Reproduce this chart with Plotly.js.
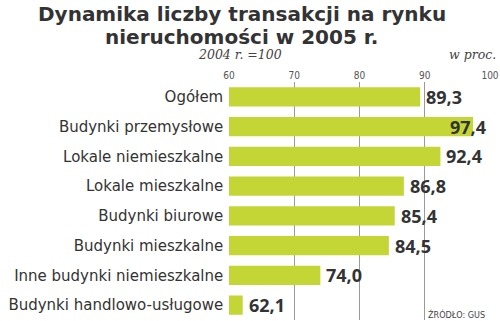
<!DOCTYPE html>
<html><head><meta charset="utf-8">
<script src="https://cdn.plot.ly/plotly-3.0.1.min.js"></script>
<style>html,body{margin:0;padding:0;background:#fff}#c{width:500px;height:321px}</style>
</head><body><div id="c"></div>
<script>
const categories = ["Ogółem","Budynki przemysłowe","Lokale niemieszkalne","Lokale mieszkalne","Budynki biurowe","Budynki mieszkalne","Inne budynki niemieszkalne","Budynki handlowo-usługowe"];
const values = [89.3, 97.4, 92.4, 86.8, 85.4, 84.5, 74.0, 62.1];
const tickVals = [60, 70, 80, 90, 100];
const fmt = v => v.toFixed(1).replace('.', ',');

const trace = {
  type: 'bar', orientation: 'h', x: values, y: categories,
  marker: {color: '#c4d536'}, width: 0.64, hoverinfo: 'skip'
};
const annotations = values.map((v, i) => ({
  x: Math.min(v, 93.0), y: categories[i], xref: 'x', yref: 'y',
  text: fmt(v), showarrow: false, xanchor: 'left', xshift: 4,
  font: {family: 'Open Sans, sans-serif', size: 18, color: '#333', weight: 700}
}));
const H = 238;
const py = px => (320 - px) / H;
annotations.push(
  {xref:'paper', yref:'paper', x:0.048, y:py(14.5), xanchor:'center', yanchor:'middle', showarrow:false,
   text:'<b>Dynamika liczby transakcji na rynku</b>', font:{family:'DejaVu Sans, sans-serif', size:20, color:'#333'}},
  {xref:'paper', yref:'paper', x:0.048, y:py(36.5), xanchor:'center', yanchor:'middle', showarrow:false,
   text:'<b>nieruchomości w 2005 r.</b>', font:{family:'DejaVu Sans, sans-serif', size:20, color:'#333'}},
  {xref:'paper', yref:'paper', x:-0.125, y:py(55), xanchor:'left', yanchor:'middle', showarrow:false,
   text:'<i>2004 r. =100</i>', font:{family:'DejaVu Serif, serif', size:12.5, color:'#444'}},
  {xref:'paper', yref:'paper', x:1.03, y:py(55), xanchor:'right', yanchor:'middle', showarrow:false,
   text:'<i>w proc.</i>', font:{family:'DejaVu Serif, serif', size:12.5, color:'#444'}},
  {xref:'paper', yref:'paper', x:0.99, y:py(314), xanchor:'right', yanchor:'middle', showarrow:false,
   text:'ŹRÓDŁO: GUS', font:{family:'DejaVu Sans Condensed, sans-serif', size:9, color:'#444'}}
);

const layout = {
  width: 500, height: 321,
  margin: {l: 229, r: 10, t: 82, b: 1},
  paper_bgcolor: '#fff', plot_bgcolor: '#fff',
  xaxis: {range: [60, 100], side: 'top', tickvals: tickVals,
    showgrid: true, gridcolor: '#9a9a9a', gridwidth: 1, zeroline: false,
    ticks: '', tickfont: {family: 'DejaVu Sans Condensed, sans-serif', size: 10, color: '#555'}, fixedrange: true},
  yaxis: {autorange: 'reversed', showgrid: false, zeroline: false, ticks: '', ticksuffix: ' ',
    tickfont: {family: 'DejaVu Sans, sans-serif', size: 15, color: '#333'}},
  showlegend: false, bargap: 0.36,
  annotations: annotations
};
Plotly.newPlot('c', [trace], layout, {displayModeBar: false, staticPlot: true});
</script></body></html>
